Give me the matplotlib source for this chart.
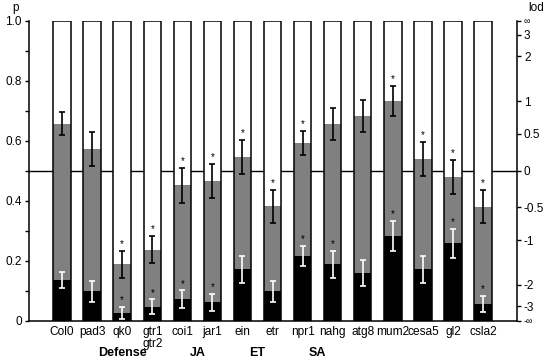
import numpy as np
import matplotlib.pyplot as plt

plt.rcParams['font.family'] = ['Liberation Sans', 'DejaVu Sans']

# genotypes and values
names = ["Col0", "pad3", "qk0", "gtr1\ngtr2", "coi1", "jar1", "ein", "etr",
         "npr1", "nahg", "atg8", "mum2", "cesa5", "gl2", "csla2"]
gray_p = [0.656, 0.573, 0.188, 0.237, 0.451, 0.466, 0.545, 0.381,
          0.593, 0.655, 0.683, 0.733, 0.540, 0.480, 0.380]
gray_err = [0.038, 0.057, 0.045, 0.046, 0.057, 0.057, 0.057, 0.055,
            0.040, 0.053, 0.053, 0.050, 0.057, 0.057, 0.055]
gray_sig = [0, 0, 1, 1, 1, 1, 1, 1, 1, 0, 0, 1, 1, 1, 1]
black_p = [0.136, 0.099, 0.027, 0.046, 0.071, 0.062, 0.172, 0.099,
           0.216, 0.189, 0.160, 0.282, 0.172, 0.258, 0.055]
black_err = [0.027, 0.035, 0.020, 0.025, 0.030, 0.028, 0.045, 0.035,
             0.033, 0.045, 0.044, 0.050, 0.045, 0.049, 0.027]
black_sig = [0, 0, 1, 1, 1, 1, 0, 0, 1, 1, 0, 1, 0, 1, 1]
groups = ["Defense", "JA", "ET", "SA"]
group_pos = [2, 4.5, 6.5, 8.5]
lod_ticks = [3, 2, 1, 0.5, 0, -0.5, -1, -2, -3]

x = np.arange(len(names))
w = 0.58

fig = plt.figure(figsize=(5.5, 3.63), dpi=100)
ax = fig.add_axes([0.0527, 0.1165, 0.8873, 0.8265])

ax.axhline(0.5, color="black", lw=1.0, zorder=0)
ax.bar(x, np.ones(len(x)), w, color="white", zorder=1)
ax.bar(x, gray_p, w, color="#808080", zorder=2)
ax.bar(x, black_p, w, color="black", zorder=3)
ax.bar(x, np.ones(len(x)), w, fill=False, edgecolor="black", lw=1.1, zorder=4)

ax.errorbar(x, gray_p, yerr=gray_err, fmt="none", ecolor="black",
            elinewidth=1.2, capsize=2.5, capthick=1.2, zorder=5)
ax.errorbar(x, black_p, yerr=black_err, fmt="none", ecolor="white",
            elinewidth=1.2, capsize=2.5, capthick=1.2, zorder=5)

for i in range(len(x)):
    if gray_sig[i]:
        ax.text(x[i], gray_p[i] + gray_err[i] + 0.006, "*", ha="center",
                va="bottom", fontsize=7, zorder=6)
    if black_sig[i]:
        ax.text(x[i], black_p[i] + black_err[i] + 0.006, "*", ha="center",
                va="bottom", fontsize=7, zorder=6)

ax.set_xlim(-1.1, 15.13)
ax.set_ylim(0, 1)
ax.set_xticks(x)
ax.set_xticklabels(names, fontsize=8.6, linespacing=1.0)
ax.tick_params(axis="x", length=0, pad=4)
ax.set_yticks([0, 0.2, 0.4, 0.6, 0.8, 1.0])
ax.set_yticklabels(["0", "0.2", "0.4", "0.6", "0.8", "1.0"], fontsize=8.5)
ax.set_yticks(np.arange(0.1, 1.0, 0.2), minor=True)
ax.tick_params(axis="y", which="both", length=3, width=1, pad=2)
for s in ["top", "right"]:
    ax.spines[s].set_visible(False)
ax.spines["left"].set_linewidth(1.1)
ax.spines["bottom"].set_linewidth(1.1)

for g, gp in zip(groups, group_pos):
    ax.text(gp, -0.108, g, ha="center", va="center", fontsize=9,
            fontweight="bold")

# right axis: log odds
ax2 = ax.twinx()
ax2.set_ylim(0, 1)
pos = [1.0] + [1 / (1 + np.exp(-v)) for v in lod_ticks] + [0.0]
labs = ["∞"] + ["%g" % v for v in lod_ticks] + ["-∞"]
ax2.set_yticks(pos)
ax2.set_yticklabels(labs, fontsize=8.5)
for lab in (ax2.get_yticklabels()[0], ax2.get_yticklabels()[-1]):
    lab.set_fontsize(6.5)
ax2.tick_params(axis="y", length=3, width=1, pad=2)
for s in ["top", "left", "bottom"]:
    ax2.spines[s].set_visible(False)
ax2.spines["right"].set_linewidth(1.1)

fig.text(16 / 550, 1 - 8 / 363, "p", ha="center", va="center", fontsize=8.5)
fig.text(536 / 550, 1 - 8 / 363, "lod", ha="center", va="center", fontsize=8.5)

fig.savefig("out.png", dpi=100)
